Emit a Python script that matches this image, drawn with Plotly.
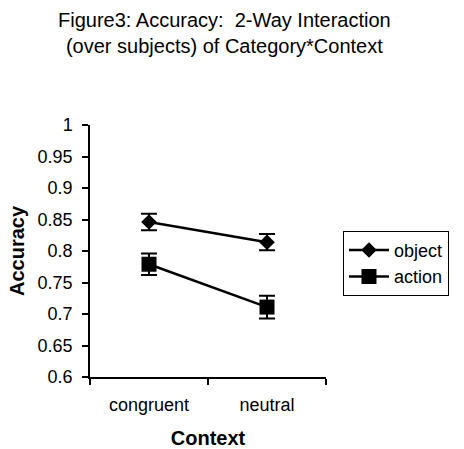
import plotly.graph_objects as go

# Mean accuracy per context level, with standard errors, for each category
contexts = ["congruent", "neutral"]
object_acc = [0.846, 0.814]
object_err = [0.013, 0.013]
action_acc = [0.779, 0.711]
action_err = [0.017, 0.018]
y_ticks = [0.6, 0.65, 0.7, 0.75, 0.8, 0.85, 0.9, 0.95, 1]
y_tick_text = ["0.6", "0.65", "0.7", "0.75", "0.8", "0.85", "0.9", "0.95", "1"]

FONT = "Arial, Liberation Sans, sans-serif"

fig = go.Figure()
fig.add_trace(go.Scatter(
    x=contexts, y=object_acc, name="object", mode="lines+markers",
    line=dict(color="black", width=2.5),
    marker=dict(symbol="diamond", size=12, color="black"),
    error_y=dict(type="data", array=object_err, visible=True,
                 color="black", thickness=2, width=8),
))
fig.add_trace(go.Scatter(
    x=contexts, y=action_acc, name="action", mode="lines+markers",
    line=dict(color="black", width=2.5),
    marker=dict(symbol="square", size=15, color="black"),
    error_y=dict(type="data", array=action_err, visible=True,
                 color="black", thickness=2, width=8),
))

fig.update_layout(
    width=464, height=449,
    margin=dict(l=90, r=138, t=125, b=72),
    paper_bgcolor="white", plot_bgcolor="white",
    font=dict(family=FONT, size=18, color="black"),
    showlegend=True,
    legend=dict(
        x=1.072, xanchor="left", y=0.58, yanchor="top",
        bordercolor="black", borderwidth=1, bgcolor="white",
        font=dict(family=FONT, size=18, color="black"),
        itemwidth=40, tracegroupgap=0,
    ),
)

# Two-line chart heading above the plot area
fig.add_annotation(
    text="Figure3: Accuracy:\u00a0 2-Way Interaction<br>(over subjects) of Category*Context",
    xref="paper", yref="paper", x=0.568, y=1.365,
    xanchor="center", yanchor="middle", showarrow=False,
    font=dict(family=FONT, size=20, color="black"),
)

fig.update_xaxes(
    type="category", range=[-0.5, 1.5], automargin=False,
    tickson="boundaries", ticks="outside", ticklen=6, tickwidth=1.5,
    tickcolor="black", showline=True, linecolor="black", linewidth=1.5,
    showgrid=False, zeroline=False, ticklabelstandoff=11,
    title=dict(text="<b>Context</b>", font=dict(family=FONT, size=20), standoff=20),
)
fig.update_yaxes(
    range=[0.6, 1.0], tickvals=y_ticks, ticktext=y_tick_text, automargin=False,
    ticks="outside", ticklen=6, tickwidth=1.5, tickcolor="black",
    showline=True, linecolor="black", linewidth=1.5,
    showgrid=False, zeroline=False, ticklabelstandoff=6,
    title=dict(text="<b>Accuracy</b>", font=dict(family=FONT, size=20), standoff=8),
)

fig.write_html("out.html")
